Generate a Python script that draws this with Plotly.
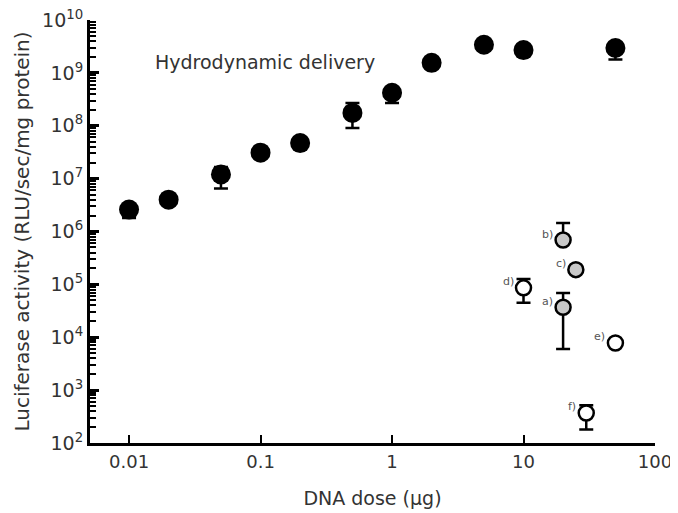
import plotly.graph_objects as go
import math

# Hydrodynamic delivery (filled black circles)
dose_hd = [0.01, 0.02, 0.05, 0.1, 0.2, 0.5, 1, 2, 5, 10, 50]
act_hd = [2.6e6, 4.0e6, 1.2e7, 3.1e7, 4.7e7, 1.75e8, 4.2e8, 1.55e9, 3.4e9, 2.7e9, 2.95e9]
err_hd_plus = [0, 0, 4.6e6, 0, 0, 9.5e7, 0, 0, 0, 0, 0]
err_hd_minus = [8e5, 0, 5.5e6, 0, 0, 8.4e7, 1.5e8, 0, 0, 0, 1.15e9]

# Other delivery methods
labels_o = ["a)", "b)", "c)", "d)", "e)", "f)"]
dose_o = [20, 20, 25, 10, 50, 30]
act_o = [3.7e4, 6.9e5, 1.9e5, 8.6e4, 7.8e3, 3.7e2]
err_o_plus = [3.2e4, 7.6e5, 0, 4.0e4, 0, 1.5e2]
err_o_minus = [3.1e4, 0, 0, 4.1e4, 0, 1.9e2]
fill_o = ["#c8c8c8", "#c8c8c8", "#c8c8c8", "#ffffff", "#ffffff", "#ffffff"]

x_ticks = [0.01, 0.1, 1, 10, 100]
x_ticktext = ["0.01", "0.1", "1", "10", "100"]
y_decades = [2, 3, 4, 5, 6, 7, 8, 9, 10]
y_ticktext = ["10<sup>%d</sup>" % d for d in y_decades]
y_minor = [m * 10 ** d for d in range(2, 10) for m in range(2, 10)]

FONT = "DejaVu Sans"
TXT = "#333333"
Y_RANGE = [2, 10]

fig = go.Figure()

fig.add_trace(go.Scatter(
    x=dose_hd, y=act_hd, mode="markers",
    marker=dict(size=20, color="black", line=dict(width=0)),
    error_y=dict(type="data", symmetric=False, array=err_hd_plus,
                 arrayminus=err_hd_minus, color="black", thickness=2.5, width=7),
    showlegend=False, cliponaxis=False,
))

fig.add_trace(go.Scatter(
    x=dose_o, y=act_o, mode="markers", yaxis="y2",
    marker=dict(size=15, color=fill_o, line=dict(width=2.5, color="black")),
    error_y=dict(type="data", symmetric=False, array=err_o_plus,
                 arrayminus=err_o_minus, color="black", thickness=2.5, width=7),
    showlegend=False, cliponaxis=False,
))

for lab, xv, yv in zip(labels_o, dose_o, act_o):
    fig.add_annotation(x=math.log10(xv), y=math.log10(yv), text=lab,
                       showarrow=False, xanchor="right", yanchor="middle",
                       xshift=-8, yshift=6,
                       font=dict(family=FONT, size=11, color="#555555"))

fig.add_annotation(x=-0.965, y=9.21, text="Hydrodynamic delivery",
                   showarrow=False, xanchor="center", yanchor="middle",
                   font=dict(family=FONT, size=19, color=TXT))

fig.update_layout(
    xaxis=dict(
        type="log", range=[-2.297, 2.0], automargin=False,
        tickmode="array", tickvals=x_ticks, ticktext=x_ticktext,
        ticks="inside", ticklen=8, tickwidth=2, tickcolor="black",
        ticklabelstandoff=0, ticklabeloverflow="allow",
        showline=True, linewidth=3, linecolor="black",
        showgrid=False, zeroline=False,
        tickfont=dict(family=FONT, size=18, color=TXT),
        title=dict(text="DNA dose (µg)", font=dict(family=FONT, size=19, color=TXT), standoff=22),
    ),
    yaxis=dict(
        type="log", range=Y_RANGE, automargin=False,
        tickmode="array", tickvals=[10 ** d for d in y_decades], ticktext=y_ticktext,
        ticks="inside", ticklen=9, tickwidth=2.5, tickcolor="black",
        ticklabelstandoff=0, ticklabeloverflow="allow",
        showline=True, linewidth=3, linecolor="black",
        showgrid=False, zeroline=False,
        tickfont=dict(family=FONT, size=19, color=TXT),
        title=dict(text="Luciferase activity (RLU/sec/mg protein)",
                   font=dict(family=FONT, size=20, color=TXT), standoff=8),
    ),
    yaxis2=dict(
        type="log", range=Y_RANGE, overlaying="y", anchor="x", side="left",
        automargin=False,
        tickmode="array", tickvals=y_minor, showticklabels=False,
        ticks="inside", ticklen=6, tickwidth=2, tickcolor="black",
        showline=False, showgrid=False, zeroline=False,
    ),
    width=670, height=505,
    margin=dict(l=82, r=23, t=12, b=70),
    plot_bgcolor="white", paper_bgcolor="white",
)

fig.write_html("out.html")
